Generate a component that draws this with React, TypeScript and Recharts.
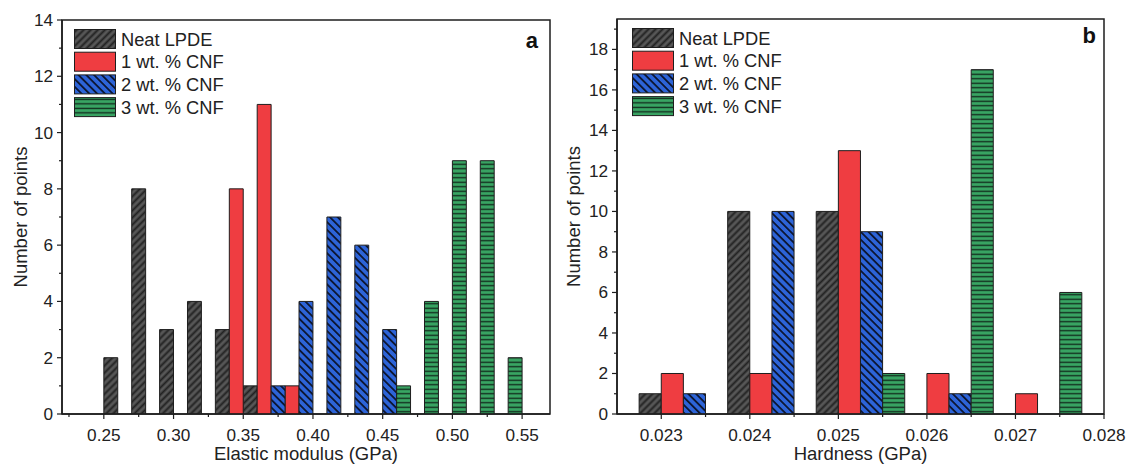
import { BarChart, Bar, XAxis, YAxis, ReferenceArea, Legend, Label } from 'recharts'

const seriesNames = ['Neat LPDE', '1 wt. % CNF', '2 wt. % CNF', '3 wt. % CNF']
const seriesKeys = ['neat', 'cnf1', 'cnf2', 'cnf3']

// panel a: elastic modulus, bin start values (GPa) and counts
const modulusNeatBins = [0.25, 0.27, 0.29, 0.31, 0.33, 0.35]
const modulusNeatCounts = [2, 8, 3, 4, 3, 1]
const modulusCnf1Bins = [0.34, 0.36, 0.38]
const modulusCnf1Counts = [8, 11, 1]
const modulusCnf2Bins = [0.37, 0.39, 0.41, 0.43, 0.45]
const modulusCnf2Counts = [1, 4, 7, 6, 3]
const modulusCnf3Bins = [0.46, 0.48, 0.5, 0.52, 0.54]
const modulusCnf3Counts = [1, 4, 9, 9, 2]
const modulusBinWidth = 0.01
const modulusTicks = [0.25, 0.3, 0.35, 0.4, 0.45, 0.5, 0.55]
const modulusMinorTicks = [0.225, 0.275, 0.325, 0.375, 0.425, 0.475, 0.525]
const modulusCountTicks = [0, 2, 4, 6, 8, 10, 12, 14]
const modulusCountMinor = [1, 3, 5, 7, 9, 11, 13]

// panel b: hardness
const hardnessNeatBins = [0.02275, 0.02375, 0.02475]
const hardnessNeatCounts = [1, 10, 10]
const hardnessCnf1Bins = [0.023, 0.024, 0.025, 0.026, 0.027]
const hardnessCnf1Counts = [2, 2, 13, 2, 1]
const hardnessCnf2Bins = [0.02325, 0.02425, 0.02525, 0.02625]
const hardnessCnf2Counts = [1, 10, 9, 1]
const hardnessCnf3Bins = [0.0255, 0.0265, 0.0275]
const hardnessCnf3Counts = [2, 17, 6]
const hardnessBinWidth = 0.00025
const hardnessTicks = [0.023, 0.024, 0.025, 0.026, 0.027, 0.028]
const hardnessMinorTicks = [0.0235, 0.0245, 0.0255, 0.0265, 0.0275]
const hardnessCountTicks = [0, 2, 4, 6, 8, 10, 12, 14, 16, 18]
const hardnessCountMinor = [1, 3, 5, 7, 9, 11, 13, 15, 17, 19]

const INK = '#1e1e1e'

// one row per bar centre; series never share a centre so a single stack works
function buildRows(bins: number[][], counts: number[][], width: number) {
    const rows = new Map<string, any>()
    bins.forEach((list, s) => list.forEach((start, i) => {
        const x = +(start + width / 2).toFixed(7)
        const row = rows.get(String(x)) ?? { x, neat: 0, cnf1: 0, cnf2: 0, cnf3: 0 }
        row[seriesKeys[s]] = counts[s][i]
        rows.set(String(x), row)
    }))
    return [...rows.values()].sort((a, b) => a.x - b.x)
}

const modulusRows = buildRows(
    [modulusNeatBins, modulusCnf1Bins, modulusCnf2Bins, modulusCnf3Bins],
    [modulusNeatCounts, modulusCnf1Counts, modulusCnf2Counts, modulusCnf3Counts],
    modulusBinWidth
)
const hardnessRows = buildRows(
    [hardnessNeatBins, hardnessCnf1Bins, hardnessCnf2Bins, hardnessCnf3Bins],
    [hardnessNeatCounts, hardnessCnf1Counts, hardnessCnf2Counts, hardnessCnf3Counts],
    hardnessBinWidth
)

const isIn = (list: number[], v: number) => list.some(m => Math.abs(m - v) < 1e-9)

function Patterns({ prefix }: { prefix: string }) {
    return (
        <defs>
            <pattern id={`${prefix}-neat`} patternUnits="userSpaceOnUse" width={5} height={5} patternTransform="rotate(45)">
                <rect width={5} height={5} fill="#575757" />
                <line x1={2.5} y1={0} x2={2.5} y2={5} stroke="#222" strokeWidth={2} />
            </pattern>
            <pattern id={`${prefix}-cnf1`} patternUnits="userSpaceOnUse" width={5} height={5}>
                <rect width={5} height={5} fill="#ef3d41" />
            </pattern>
            <pattern id={`${prefix}-cnf2`} patternUnits="userSpaceOnUse" width={5.5} height={5.5} patternTransform="rotate(-45)">
                <rect width={5.5} height={5.5} fill="#2d64d8" />
                <line x1={2.75} y1={0} x2={2.75} y2={5.5} stroke="#0c1530" strokeWidth={1.8} />
            </pattern>
            <pattern id={`${prefix}-cnf3`} patternUnits="userSpaceOnUse" width={4.5} height={4.5}>
                <rect width={4.5} height={4.5} fill="#38a563" />
                <line x1={0} y1={2.25} x2={4.5} y2={2.25} stroke="#10261a" strokeWidth={1.3} />
            </pattern>
        </defs>
    )
}

function LegendBox({ prefix }: { prefix: string }) {
    return (
        <svg width={180} height={92} style={{ display: 'block', overflow: 'visible' }}>
            {seriesNames.map((name, i) => (
                <g key={name} transform={`translate(0, ${i * 22.7})`}>
                    <rect x={0.5} y={0.5} width={41} height={19} fill={`url(#${prefix}-${seriesKeys[i]})`} stroke={INK} strokeWidth={1} />
                    <text x={47} y={16.5} fontSize={18.3} fill="#222">{name}</text>
                </g>
            ))}
        </svg>
    )
}

function makeXTick(majors: number[], digits: number) {
    return (props: any) => {
        const { x, y, payload } = props
        const major = isIn(majors, payload.value)
        return (
            <g>
                <line x1={x} x2={x} y1={y} y2={y + (major ? 5 : 3)} stroke={INK} strokeWidth={1.2} />
                {major && (
                    <text x={x} y={y + 26.5} textAnchor="middle" fontSize={17.2} fill="#222">
                        {payload.value.toFixed(digits)}
                    </text>
                )}
            </g>
        )
    }
}

function makeYTick(majors: number[]) {
    return (props: any) => {
        const { x, y, payload } = props
        const major = isIn(majors, payload.value)
        return (
            <g>
                <line x1={x} x2={x - (major ? 5 : 3)} y1={y} y2={y} stroke={INK} strokeWidth={1.2} />
                {major && (
                    <text x={x - 9} y={y + 6} textAnchor="end" fontSize={17.2} fill="#222">
                        {payload.value}
                    </text>
                )}
            </g>
        )
    }
}

type PanelProps = {
    id: string
    rows: any[]
    xDomain: [number, number]
    xMajor: number[]
    xMinor: number[]
    digits: number
    yMax: number
    yMajor: number[]
    yMinor: number[]
    binWidth: number
    xTitle: string
    letter: string
    letterOffset: number
    left: number
    width: number
    right: number
    top: number
    yTitleOffset: number
    legendLeft: number
    legendTop: number
}

function Panel(p: PanelProps) {
    const height = 464
    const plotWidth = p.width - 62 - p.right
    // a hair under the band so recharts does not shrink the bars by 10%
    const barSize = (plotWidth * p.binWidth / (p.xDomain[1] - p.xDomain[0])) * 0.998
    const xTicks = [...p.xMajor, ...p.xMinor].sort((a, b) => a - b)
    const yTicks = [...p.yMajor, ...p.yMinor].sort((a, b) => a - b)
    return (
        <div style={{ position: 'absolute', left: p.left, top: 0 }}>
            <BarChart width={p.width} height={height} data={p.rows} margin={{ top: p.top, right: p.right, bottom: 0, left: 0 }}>
                <Patterns prefix={p.id} />
                <XAxis
                    dataKey="x"
                    type="number"
                    domain={p.xDomain}
                    ticks={xTicks}
                    interval={0}
                    allowDataOverflow
                    height={50}
                    tickSize={0}
                    tickMargin={0}
                    tick={makeXTick(p.xMajor, p.digits)}
                    axisLine={{ stroke: INK, strokeWidth: 1.5 }}
                    tickLine={false}
                >
                    <Label value={p.xTitle} position="insideBottom" offset={4} style={{ fontSize: 18.5, fill: '#222' }} />
                </XAxis>
                <YAxis
                    type="number"
                    domain={[0, p.yMax]}
                    ticks={yTicks}
                    interval={0}
                    allowDataOverflow
                    width={62}
                    tickSize={0}
                    tickMargin={0}
                    tick={makeYTick(p.yMajor)}
                    axisLine={{ stroke: INK, strokeWidth: 1.5 }}
                    tickLine={false}
                >
                    <Label
                        value="Number of points"
                        angle={-90}
                        position="insideLeft"
                        offset={p.yTitleOffset}
                        style={{ fontSize: 18.5, fill: '#222', textAnchor: 'middle' }}
                    />
                </YAxis>
                {seriesKeys.map((k, i) => (
                    <Bar
                        key={k}
                        dataKey={k}
                        name={seriesNames[i]}
                        stackId="h"
                        barSize={barSize}
                        fill={`url(#${p.id}-${k})`}
                        stroke={INK}
                        strokeWidth={1}
                        isAnimationActive={false}
                    />
                ))}
                <ReferenceArea
                    x1={p.xDomain[0]}
                    x2={p.xDomain[1]}
                    y1={0}
                    y2={p.yMax}
                    fill="none"
                    fillOpacity={0}
                    stroke={INK}
                    strokeWidth={1.5}
                    ifOverflow="visible"
                >
                    <Label value={p.letter} position="insideTopRight" offset={p.letterOffset} style={{ fontSize: 22, fontWeight: 700, fill: '#111' }} />
                </ReferenceArea>
                <Legend
                    layout="vertical"
                    align="center"
                    verticalAlign="middle"
                    wrapperStyle={{ left: p.legendLeft, top: p.legendTop, width: 180, height: 92 }}
                    content={() => <LegendBox prefix={p.id} />}
                />
            </BarChart>
        </div>
    )
}

export default function App() {
    return (
        <div
            style={{
                position: 'absolute',
                left: 0,
                top: 0,
                width: 1133,
                height: 464,
                background: '#fff',
                fontFamily: "'Liberation Sans', Arial, sans-serif",
            }}
        >
            <Panel
                id="a"
                rows={modulusRows}
                xDomain={[0.22, 0.57]}
                xMajor={modulusTicks}
                xMinor={modulusMinorTicks}
                digits={2}
                yMax={14}
                yMajor={modulusCountTicks}
                yMinor={modulusCountMinor}
                binWidth={modulusBinWidth}
                xTitle="Elastic modulus (GPa)"
                letter="a"
                letterOffset={12}
                left={0}
                width={570}
                right={20}
                top={20}
                yTitleOffset={20}
                legendLeft={74}
                legendTop={29}
            />
            <Panel
                id="b"
                rows={hardnessRows}
                xDomain={[0.0225, 0.028]}
                xMajor={hardnessTicks}
                xMinor={hardnessMinorTicks}
                digits={3}
                yMax={19.5}
                yMajor={hardnessCountTicks}
                yMinor={hardnessCountMinor}
                binWidth={hardnessBinWidth}
                xTitle="Hardness (GPa)"
                letter="b"
                letterOffset={8}
                left={555}
                width={578}
                right={29}
                top={19}
                yTitleOffset={18}
                legendLeft={77}
                legendTop={28}
            />
        </div>
    )
}
